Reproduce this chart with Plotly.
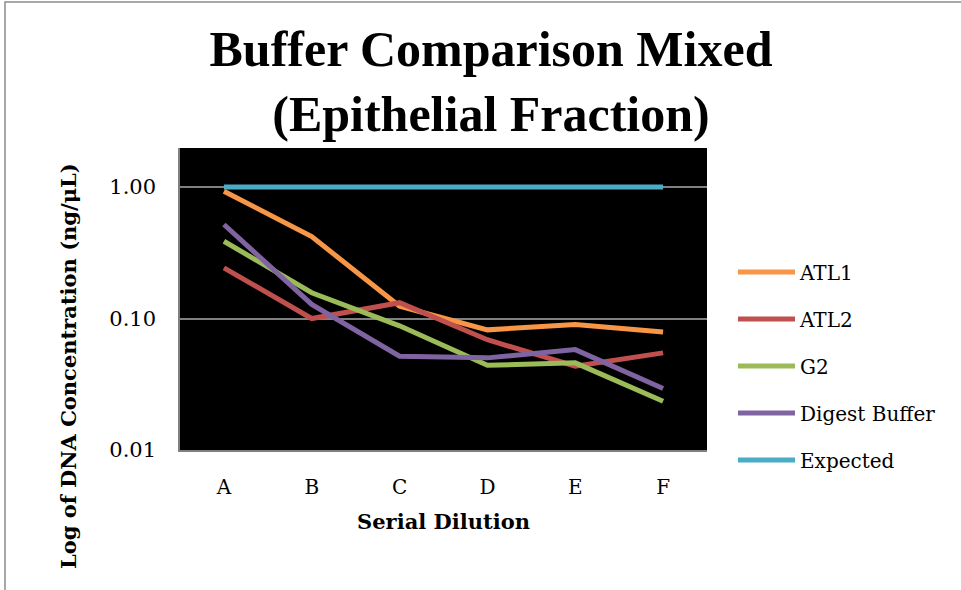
import plotly.graph_objects as go

# Serial dilution steps
dilutions = ["A", "B", "C", "D", "E", "F"]

# DNA concentration (ng/µL) for each extraction buffer
atl1 = [0.93, 0.42, 0.124, 0.082, 0.090, 0.079]
atl2 = [0.243, 0.100, 0.132, 0.069, 0.0434, 0.0548]
g2 = [0.387, 0.157, 0.088, 0.0441, 0.046, 0.0235]
digest_buffer = [0.519, 0.128, 0.0517, 0.0502, 0.058, 0.0294]
expected = [1.0, 1.0, 1.0, 1.0, 1.0, 1.0]

series_names = ["ATL1", "ATL2", "G2", "Digest Buffer", "Expected"]
series_values = [atl1, atl2, g2, digest_buffer, expected]
series_colors = ["#F79646", "#C0504D", "#9BBB59", "#8064A2", "#4BACC6"]

y_tick_vals = [0.01, 0.1, 1.0]
y_tick_text = ["0.01", "0.10", "1.00"]

FONT = "DejaVu Serif"
TITLE_FONT = "Liberation Serif"

fig = go.Figure()
for name, vals, color in zip(series_names, series_values, series_colors):
    fig.add_trace(go.Scatter(
        x=dilutions, y=vals, mode="lines", name=name,
        legendgroup=name,
        line=dict(color=color, width=5),
    ))

W, H = 961, 590
L, R, T, B = 180, 254, 148, 140
pw, ph = W - L - R, H - T - B

fig.update_layout(
    width=W, height=H,
    margin=dict(l=L, r=R, t=T, b=B),
    paper_bgcolor="white",
    plot_bgcolor="black",
    font=dict(family=FONT, color="black", size=20),
    title=dict(
        text="<b>Buffer Comparison Mixed<br>(Epithelial Fraction)</b>",
        x=491 / W, xref="container", xanchor="center",
        y=1 - 66 / H, yref="container", yanchor="middle",
        font=dict(family=TITLE_FONT, size=50, color="black"),
    ),
    xaxis=dict(
        type="category", range=[-0.5, 5.5],
        showgrid=False, showline=True, linecolor="#808080", linewidth=1.5,
        ticks="", ticklabelstandoff=18,
        tickfont=dict(family=FONT, size=20),
        title=dict(text="<b>Serial Dilution</b>", font=dict(family=FONT, size=21), standoff=17),
    ),
    yaxis=dict(
        type="log", range=[-2, 0.297],
        tickvals=y_tick_vals, ticktext=y_tick_text,
        showgrid=True, gridcolor="#808080", gridwidth=1.5,
        showline=True, linecolor="#808080", linewidth=1.5,
        ticks="", ticklabelstandoff=18,
        tickfont=dict(family=FONT, size=21),
        zeroline=False,
    ),
    legend=dict(
        x=(733 - L) / pw, xanchor="left",
        y=(H - B - 366) / ph, yanchor="middle",
        font=dict(family=FONT, size=20),
        tracegroupgap=18,
        itemwidth=57,
        bgcolor="rgba(0,0,0,0)",
    ),
    showlegend=True,
)

# Rotated y-axis title
fig.add_annotation(
    text="<b>Log of DNA Concentration (ng/μL)</b>",
    xref="paper", yref="paper",
    x=(68 - L) / pw, y=(H - B - 366) / ph,
    xanchor="center", yanchor="middle",
    textangle=-90, showarrow=False,
    font=dict(family=FONT, size=21, color="black"),
)

# Chart frame
fig.add_shape(
    type="rect", xref="paper", yref="paper",
    x0=(5 - L) / pw, x1=(W + 20 - L) / pw,
    y0=(H - B - (H + 20)) / ph, y1=(H - B - 2) / ph,
    line=dict(color="#8c8c8c", width=1.5), fillcolor="rgba(0,0,0,0)",
    layer="below",
)

fig.write_html("out.html")
